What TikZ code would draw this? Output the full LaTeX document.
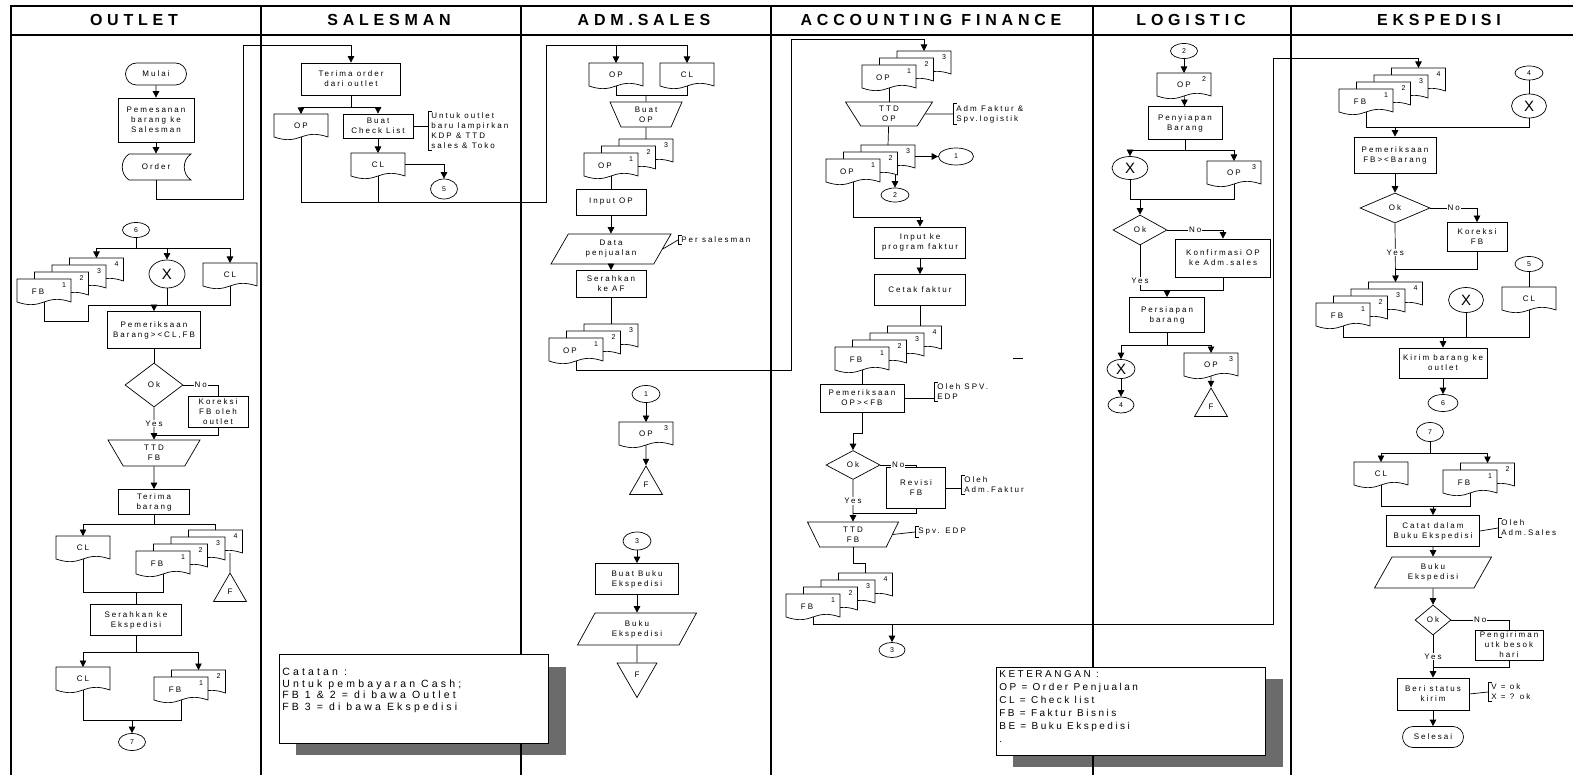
\documentclass[tikz,border=0pt]{standalone}
\usepackage{fontspec}
\setmainfont{Liberation Sans}[LetterSpace=25]
\newfontfamily\widefont{Liberation Sans}[LetterSpace=30]
\newfontfamily\plainsans{Liberation Sans}
\usetikzlibrary{arrows.meta,shapes.geometric,shapes.misc,calc}

% document symbol with a wavy lower edge
\makeatletter
\newdimen\docxl \newdimen\docxr \newdimen\docxm
\newdimen\docyb \newdimen\docyt \newdimen\docamp
\pgfdeclareshape{docu}{%
  \inheritsavedanchors[from=rectangle]
  \inheritanchorborder[from=rectangle]
  \inheritanchor[from=rectangle]{center}
  \inheritanchor[from=rectangle]{north}
  \inheritanchor[from=rectangle]{south}
  \inheritanchor[from=rectangle]{east}
  \inheritanchor[from=rectangle]{west}
  \inheritanchor[from=rectangle]{north east}
  \inheritanchor[from=rectangle]{north west}
  \inheritanchor[from=rectangle]{south east}
  \inheritanchor[from=rectangle]{south west}
  \backgroundpath{%
    \southwest \docxl=\pgf@x \docyb=\pgf@y
    \northeast \docxr=\pgf@x \docyt=\pgf@y
    \docxm=.5\docxl \advance\docxm by .5\docxr
    \docamp=\docyt \advance\docamp by -\docyb \docamp=.4\docamp
    \pgfpathmoveto{\pgfqpoint{\docxl}{\docyt}}%
    \pgfpathlineto{\pgfqpoint{\docxr}{\docyt}}%
    \pgfpathlineto{\pgfqpoint{\docxr}{\docyb}}%
    \pgfpathcurveto{\pgfqpoint{\docxm}{\dimexpr\docyb+\docamp\relax}}%
      {\pgfqpoint{\docxm}{\dimexpr\docyb-\docamp\relax}}%
      {\pgfqpoint{\docxl}{\docyb}}%
    \pgfpathclose
  }%
}
\makeatother

% stack of copies: #1 name, #2 top of front copy, #3 copies, #4 label
\newcommand\docstack[4]{%
  \foreach \k in {#3,...,1}{%
    \node[docu, anchor=north] (#1\k) at ($(#2)+({17.5*(\k-1)},{-7*(\k-1)})$) {};
    \node[dnum] (#1n\k) at ([shift={(-7,6)}]#1\k.north east) {\k};
  }%
  \node[dtxt] (#1t) at ([shift={(-6,13)}]#11.north) {#4};
}

\begin{document}
\begin{tikzpicture}[x=1pt, y=-1pt, line width=0.7pt,
    >={Triangle[length=6.5pt,width=6.5pt]},
    font=\fontsize{8}{10}\selectfont,
    lane/.style={line width=1.3pt},
    ttl/.style={font=\widefont\fontsize{16}{18}\selectfont\bfseries},
    proc/.style 2 args={draw, fill=white, align=center, inner sep=1pt,
      minimum width=#1, minimum height=#2},
    term/.style 2 args={rounded rectangle, draw, fill=white, inner sep=1pt,
      minimum width=#1, minimum height=#2},
    dec/.style 2 args={diamond, draw, fill=white, inner sep=0pt,
      minimum width=#1, minimum height=#2},
    manop/.style n args={3}{trapezium, trapezium left angle=#3,
      trapezium right angle=#3, trapezium stretches body, draw, fill=white,
      align=center, inner sep=1pt, minimum width=#1, minimum height=#2},
    io/.style 2 args={trapezium, trapezium left angle=48,
      trapezium right angle=132, trapezium stretches body, draw, fill=white,
      align=center, inner sep=1pt, minimum width=#1, minimum height=#2},
    conn/.style 2 args={ellipse, draw, fill=white, inner sep=0pt,
      minimum width=#1, minimum height=#2, font=\fontsize{7}{8}\selectfont},
    xnode/.style 2 args={ellipse, draw, fill=white, inner sep=0pt,
      minimum width=#1, minimum height=#2, font=\plainsans\fontsize{15}{15}\selectfont},
    fup/.style={regular polygon, regular polygon sides=3, draw, fill=white,
      inner sep=0pt, minimum size=38},
    fdown/.style={fup, shape border rotate=180, minimum size=46},
    docu/.style={shape=docu, draw, fill=white, inner sep=0pt, outer sep=0pt,
      minimum width=54, minimum height=23},
    dnum/.style={inner sep=0pt, font=\fontsize{7}{8}\selectfont},
    dtxt/.style={inner sep=0pt},
    lbl/.style={fill=white, inner sep=1pt},
    anot/.style={anchor=west, align=left, inner xsep=3pt, inner ysep=1.5pt,
      append after command={(\tikzlastnode.north west) edge
        ([xshift=4pt]\tikzlastnode.north west) (\tikzlastnode.north west)
        edge (\tikzlastnode.south west) (\tikzlastnode.south west)
        edge ([xshift=4pt]\tikzlastnode.south west)}},
    note/.style={draw, fill=white, inner sep=0pt, anchor=north west},
    notetxt/.style={align=left, anchor=north west, inner sep=1pt},
    drop/.style={fill=black!58}]
  \useasboundingbox (0,0) rectangle (1573,775);

  % note shadows
  \fill[drop] (296,667) rectangle (566,755);
  \fill[drop] (1013,679) rectangle (1283,767);

  % swimlanes
  \draw[lane] (11,775) -- (11,6) -- (1573,6);
  \draw[lane] (11,35) -- (1573,35);
  \foreach \x in {261,521,771,1093,1291}
    \draw[lane] (\x,6) -- (\x,775);
  \foreach \x/\t/\n in {134/OUTLET/hOut, 389/SALESMAN/hSal, 644/ADM.SALES/hAdm,
      931/ACCOUNTING FINANCE/hAcc, 1191/LOGISTIC/hLog, 1439/EKSPEDISI/hEks}
    \node[ttl] (\n) at (\x,20) {\t};

  % notes
  \node[note, minimum width=269, minimum height=89] (cat) at (279,654) {};
  \node[notetxt, font=\widefont\fontsize{10.5}{11.5}\selectfont] (catT) at (281,667)
    {Catatan :\\Untuk pembayaran Cash;\\FB 1 \& 2 = di bawa Outlet\\FB 3 = di bawa Ekspedisi};
  \node[note, minimum width=269, minimum height=88] (ket) at (996,667) {};
  \node[notetxt, font=\fontsize{10}{13}\selectfont] (ketT) at (998,669)
    {KETERANGAN :\\OP = Order Penjualan\\CL = Check list\\FB = Faktur Bisnis\\BE = Buku Ekspedisi\\.};

  % ---- outlet
  \node[term={63}{22}] (mulai) at (156,74) {Mulai};
  \node[proc={76}{44}] (pesan) at (156,120) {Pemesanan\\barang ke\\Salesman};
  \node[minimum width=69, minimum height=26, inner sep=0pt] (order) at (156,167) {Order};
  \draw (129,154) -- (191,154) .. controls (182,160) and (182,174) .. (191,180)
    -- (129,180) .. controls (120,174) and (120,160) .. (129,154);
  \node[conn={27}{15}] (c6a) at (136,230) {6};
  \coordinate (j6a) at (136,248);
  \docstack{ofbA}{44,279}{4}{FB}
  \node[xnode={36}{28}] (xa) at (167,274) {X};
  \node[docu, anchor=north] (oclA) at (230,263) {CL};
  \node[proc={93}{37}] (cekA) at (154,330) {Pemeriksaan\\Barang><CL,FB};
  \node[dec={58}{44}] (okA) at (154,385) {Ok};
  \node[proc={60}{31}] (korA) at (218,412) {Koreksi\\FB oleh\\outlet};
  \node[manop={92}{26}{131}] (ttdA) at (154,453) {TTD\\FB};
  \node[proc={71}{25}] (trmA) at (154,502) {Terima\\barang};
  \coordinate (j6b) at (154,524);
  \node[docu, anchor=north] (oclB) at (83,536) {CL};
  \docstack{ofbB}{163,551}{4}{FB}
  \node[fup] (fA) at (230,592) {F};
  \node[proc={91}{31}] (srhA) at (136,620) {Serahkan ke\\Ekspedisi};
  \coordinate (j6c) at (136,652);
  \node[docu, anchor=north] (oclC) at (83,667) {CL};
  \docstack{ofbC}{181,677}{2}{FB}
  \node[conn={27}{17}] (c7a) at (132,742) {7};

  \draw[->] (mulai) -- (pesan);
  \draw[->] (pesan) -- (order);
  \draw (c6a) -- (j6a);
  \draw[->] (j6a) -| (ofbA4.north);
  \draw[->] (j6a) -| (xa.north);
  \draw[->] (j6a) -| (oclA.north);
  \draw (ofbA1.south) |- (88,321) -- (88,305) -| (oclA.south);
  \draw (xa.south) -- (xa.south |- 0,305);
  \draw[->] (cekA.north |- 0,305) -- (cekA.north);
  \draw (cekA) -- (okA);
  \draw (okA.east) -| node[lbl, pos=.25] {No} (korA.north);
  \draw[->] (okA.south) -- node[lbl] {Yes} (ttdA.north);
  \draw (korA.south) |- (okA.south |- 0,435);
  \draw[->] (ttdA) -- (trmA);
  \draw (trmA) -- (j6b);
  \draw[->] (j6b) -| (oclB.north);
  \draw (j6b) -| (ofbB4.north);
  \draw (fA) -- (fA.north |- ofbB4.south);
  \draw (oclB.south) |- (ofbB1.south |- 0,592) -- (ofbB1.south);
  \draw (srhA.north |- 0,592) -- (srhA);
  \draw (srhA) -- (j6c);
  \draw[->] (j6c) -| (oclC.north);
  \draw[->] (j6c) -| (ofbC2.north);
  \draw (oclC.south) |- (ofbC1.south |- 0,720) -- (ofbC1.south);
  \draw[->] (c7a.north |- 0,720) -- (c7a);

  % ---- salesman
  \node[proc={99}{32}] (trmS) at (351,79) {Terima order\\dari outlet};
  \coordinate (j7a) at (351,107);
  \node[docu, anchor=north] (sop) at (301,114) {OP};
  \node[proc={70}{24}] (chk) at (378,126) {Buat\\Check List};
  \node[anot] (an1) at (428,131) {Untuk outlet\\baru lampirkan\\KDP \& TTD\\sales \& Toko};
  \node[docu, anchor=north] (scl) at (378,153) {CL};
  \node[conn={27}{20}] (c5a) at (444,189) {5};

  \draw[->] (order.south) |- (243,199) -- (243,45) -| (trmS.north);
  \draw (trmS) -- (j7a);
  \draw[->] (j7a) -| (sop.north);
  \draw[->] (j7a) -| (chk.north);
  \draw (chk.east) -- (chk.east -| an1.west);
  \draw[->] (chk) -- (scl);
  \draw[->] (scl.east) -| (c5a.north);

  % ---- adm. sales
  \node[docu, anchor=north] (aop) at (616,63) {OP};
  \node[docu, anchor=north] (acl) at (687,63) {CL};
  \coordinate (j8a) at (646,95);
  \node[manop={72}{25}{122}] (bop) at (646,114.5) {Buat\\OP};
  \docstack{aopA}{611,153}{3}{OP}
  \node[proc={70}{26}] (inp) at (611,202) {Input OP};
  \node[io={120}{30}] (dat) at (611,249) {Data\\penjualan};
  \node[anot] (an2) at (678,240) {Per salesman};
  \node[proc={70}{27}] (srhB) at (611,284) {Serahkan\\ke AF};
  \docstack{aopB}{576,338}{3}{OP}
  \node[conn={28}{17}] (c1b) at (646,394) {1};
  \node[docu, anchor=north] (aopC) at (646,422) {OP};
  \node[dnum] (aopCn) at ([shift={(-7,6)}]aopC.north east) {3};
  \node[fup] (fB) at (646,485) {F};
  \node[conn={28}{18}] (c3b) at (637,541) {3};
  \node[proc={83}{31}] (bbk) at (637,579) {Buat Buku\\Ekspedisi};
  \node[io={119}{32}] (bkA) at (637,629) {Buku\\Ekspedisi};
  \node[fdown] (fC) at (637,674.5) {F};

  \draw[->] (sop.south) |- (546,202) -- (546,45) -| (acl.north);
  \draw (scl.south) -- (scl.south |- 0,202);
  \draw[->] (aop.north |- 0,45) -- (aop.north);
  \draw (aop.south) |- (acl.south |- j8a) -- (acl.south);
  \draw (j8a) -- (bop);
  \draw (bop) -- (aopA3.north);
  \draw (aopA1.south) -- (inp);
  \draw[->] (inp) -- (dat);
  \draw (dat.east) -- (an2.west);
  \draw[->] (dat) -- (srhB);
  \draw (srhB) -- (aopB3.north);
  \draw[->] (c1b) -- (aopC);
  \draw[->] (aopC) -- (fB);
  \draw[->] (c3b) -- (bbk);
  \draw[->] (bbk) -- (bkA);
  \draw (bkA) -- (fC);

  % ---- accounting finance
  \docstack{fopA}{889,65}{3}{OP}
  \node[manop={87}{24}{131}] (ttdB) at (889,114) {TTD\\OP};
  \node[anot] (an3) at (953,114) {Adm Faktur \&\\Spv.logistik};
  \docstack{fopB}{853,159}{3}{OP}
  \node[conn={35}{17}] (c1a) at (956,156.5) {1};
  \node[conn={28}{14}] (c2a) at (895,195) {2};
  \node[proc={91}{31}] (inf) at (920,242.5) {Input ke\\program faktur};
  \node[proc={91}{31}] (ctk) at (920,290) {Cetak faktur};
  \docstack{ffbA}{862,347}{4}{FB}
  \node[proc={84}{28}] (cekB) at (862,398) {Pemeriksaan\\OP><FB};
  \node[anot] (an4) at (934,392) {Oleh SPV.\\EDP};
  \node[dec={54}{29}] (okB) at (853,465) {Ok};
  \node[proc={59}{41}] (rev) at (916,488) {Revisi\\FB};
  \node[anot] (an5) at (961,485) {Oleh\\Adm.Faktur};
  \node[manop={91}{25}{125}] (ttdC) at (853,534.5) {TTD\\FB};
  \node[anot] (an6) at (915,532) {Spv. EDP};
  \docstack{ffbB}{813,594}{4}{FB}
  \node[conn={26}{15}] (c3a) at (892,650) {3};

  \draw[->] (aopB1.south) |- (791,370) -- (791,39) -| (fopA3.north);
  \draw (fopA1.south) -- (ttdB);
  \draw (ttdB.east) -- (an3.west);
  \draw (ttdB) -- (fopB3.north);
  \draw[->] (fopB3.east) -- (fopB3.east -| c1a.west);
  \draw[->] (c2a.north |- fopB2.south) -- (c2a);
  \draw[->] (fopB1.south) |- (inf.north |- 0,217) -- (inf.north);
  \draw[->] (inf) -- (ctk);
  \draw (ctk.south) -- (ctk.south |- ffbA4.north);
  \draw (1013,358) -- (1023,358);
  \draw (ffbA1.south) -- (cekB);
  \draw (cekB.east) -- (cekB.east -| an4.west);
  \draw[->] (cekB.south) |- (okB.north |- 0,433) -- (okB.north);
  \draw (okB.east) -| node[lbl, pos=.25] {No} (rev.north);
  \draw (rev.east) -- (rev.east -| an5.west);
  \draw[->] (okB.south) -- node[lbl] {Yes} (ttdC.north);
  \draw (rev.south) |- (okB.south |- 0,513);
  \draw (ttdC.east) -- (an6.west);
  \draw (ttdC.south) |- (ffbB4.north |- 0,563) -- (ffbB4.north);
  \draw[->] (c3a.north |- 0,624) -- (c3a);

  % ---- logistic
  \node[conn={27}{15}] (c2b) at (1184,51) {2};
  \node[docu, anchor=north] (lop) at (1184,73) {OP};
  \node[dnum] (lopn) at ([shift={(-7,6)}]lop.north east) {2};
  \node[proc={74}{33}] (sip) at (1185,123) {Penyiapan\\Barang};
  \coordinate (j9a) at (1185,150);
  \node[xnode={36}{23}] (xb) at (1130,168) {X};
  \node[docu, anchor=north] (lopA) at (1234,161) {OP};
  \node[dnum] (lopAn) at ([shift={(-7,6)}]lopA.north east) {3};
  \node[dec={54}{30}] (okC) at (1140,230) {Ok};
  \node[proc={95}{38}] (knf) at (1223,258) {Konfirmasi OP\\ke Adm.sales};
  \node[proc={75}{35}] (psp) at (1167,315) {Persiapan\\barang};
  \coordinate (j9b) at (1167,345);
  \node[xnode={28}{19}] (xc) at (1121,369) {X};
  \node[conn={26}{16}] (c4a) at (1121,405) {4};
  \node[docu, anchor=north] (lopB) at (1211,353) {OP};
  \node[dnum] (lopBn) at ([shift={(-7,6)}]lopB.north east) {3};
  \node[fup] (fD) at (1211,407) {F};

  \draw[->] (c2b) -- (lop);
  \draw[->] (lop) -- (sip);
  \draw (sip) -- (j9a);
  \draw[->] (j9a) -| (xb.north);
  \draw[->] (j9a) -| (lopA.north);
  \draw (xb.south) |- (lopA.south |- 0,199) -- (lopA.south);
  \draw[->] (okC.north |- 0,199) -- (okC.north);
  \draw[->] (okC.east) -| node[lbl, pos=.25] {No} (knf.north);
  \draw (okC.south) |- node[lbl, pos=.4] {Yes} (knf.south |- 0,290) -- (knf.south);
  \draw[->] (psp.north |- 0,290) -- (psp.north);
  \draw (psp) -- (j9b);
  \draw[->] (j9b) -| (xc.north);
  \draw[->] (j9b) -| (lopB.north);
  \draw[->] (xc) -- (c4a);
  \draw[->] (lopB) -- (fD);

  % ---- ekspedisi
  \docstack{efbA}{1366,89}{4}{FB}
  \node[conn={28}{14}] (c4b) at (1529,73) {4};
  \node[xnode={35}{24}] (xd) at (1529,106) {X};
  \node[proc={82}{36}] (cekC) at (1395,155) {Pemeriksaan\\FB><Barang};
  \node[dec={70}{30}] (okD) at (1395,208) {Ok};
  \node[proc={60}{29}] (korB) at (1477,237) {Koreksi\\FB};
  \docstack{efbB}{1343,303}{4}{FB}
  \node[xnode={35}{25}] (xe) at (1466,300) {X};
  \node[conn={28}{15}] (c5b) at (1529,264) {5};
  \node[docu, anchor=north] (eclA) at (1529,287) {CL};
  \node[proc={88}{30}] (krm) at (1443,363) {Kirim barang ke\\outlet};
  \node[conn={30}{17}] (c6b) at (1443,403) {6};
  \node[conn={27}{19}] (c7b) at (1430,432) {7};
  \coordinate (j10a) at (1430,453);
  \node[docu, anchor=north] (eclB) at (1381,462) {CL};
  \docstack{efbC}{1470,470}{2}{FB}
  \node[proc={93}{31}] (ctt) at (1433,531) {Catat dalam\\Buku Ekspedisi};
  \node[anot] (an7) at (1498,528) {Oleh\\Adm.Sales};
  \node[io={117}{31}] (bkB) at (1433,572.5) {Buku\\Ekspedisi};
  \node[dec={36}{30}] (okE) at (1433,620) {Ok};
  \node[proc={68}{30}] (png) at (1509,645) {Pengiriman\\utk besok\\hari};
  \node[proc={72}{32}] (ber) at (1433,694) {Beri status\\kirim};
  \node[anot] (an8) at (1488,692) {V = ok\\X = ? ok};
  \node[term={63}{21}] (sls) at (1433,737) {Selesai};

  \draw[->] (ffbB1.south) |- (1273,624) -- (1273,58) -| (efbA4.north);
  \draw (c4b) -- (xd);
  \draw (efbA1.south) |- (xd.south |- 0,127) -- (xd.south);
  \draw[->] (cekC.north |- 0,127) -- (cekC.north);
  \draw[->] (cekC) -- (okD);
  \draw[->] (okD.east) -| node[lbl, pos=.25] {No} (korB.north);
  \draw[->] (okD.south) -- node[lbl] {Yes} (efbB4.north);
  \draw (korB.south) |- (okD.south |- 0,269);
  \draw (c5b) -- (eclA);
  \draw (efbB1.south) |- (eclA.south |- 0,337) -- (eclA.south);
  \draw (xe.south) -- (xe.south |- 0,337);
  \draw[->] (krm.north |- 0,337) -- (krm.north);
  \draw[->] (krm) -- (c6b);
  \draw (c7b) -- (j10a);
  \draw[->] (j10a) -| (eclB.north);
  \draw[->] (j10a) -| (efbC2.north);
  \draw (eclB.south) |- (efbC1.south |- 0,506) -- (efbC1.south);
  \draw[->] (ctt.north |- 0,506) -- (ctt.north);
  \draw (ctt.east) -- (an7.west);
  \draw[->] (ctt) -- (bkB);
  \draw[->] (bkB) -- (okE);
  \draw (okE.east) -| node[lbl, pos=.25] {No} (png.north);
  \draw[->] (okE.south) -- node[lbl] {Yes} (ber.north);
  \draw (png.south) |- (okE.south |- 0,667);
  \draw (ber.east) -- (an8.west);
  \draw[->] (ber) -- (sls);
\end{tikzpicture}
\end{document}
